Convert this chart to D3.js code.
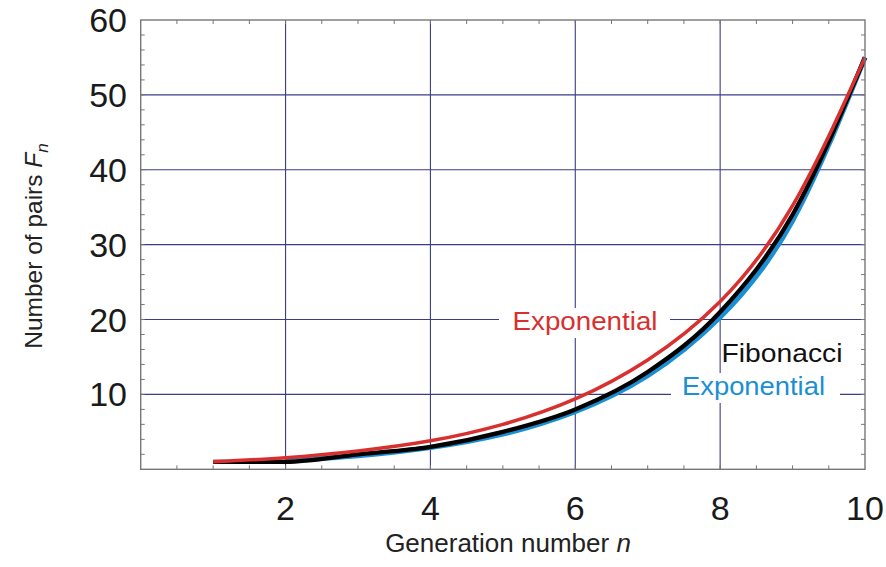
<!DOCTYPE html>
<html>
<head>
<meta charset="utf-8">
<script src="https://cdn.jsdelivr.net/npm/d3@7"></script>
<style>
  html, body { margin: 0; padding: 0; background: #fff; }
  svg { display: block; font-family: "Liberation Sans", Arial, Helvetica, sans-serif; }
</style>
</head>
<body>
<svg id="chart" width="886" height="567"></svg>
<script>
// Generation numbers and the three curves
const generations = [1, 2, 3, 4, 5, 6, 7, 8, 9, 10];
const fibonacci   = [1, 1, 2, 3, 5, 8, 13, 21, 34, 55];
const expUpper    = [1.0, 1.55, 2.45, 3.8, 6.0, 9.4, 14.6, 22.4, 35.2, 55];
const lowerGens   = [2, 3, 4, 5, 6, 7, 8, 9, 10];
const expLower    = [1.1, 1.8, 2.9, 4.7, 7.7, 12.5, 20.3, 33.2, 55];

const xTicks = [2, 4, 6, 8, 10];
const yTicks = [10, 20, 30, 40, 50, 60];

const svg = d3.select("#chart");
const plotLeft = 140.7, plotRight = 865, plotTop = 20, plotBottom = 469.3;

const x = d3.scaleLinear().domain([0, 10]).range([plotLeft, plotRight]);
const y = d3.scaleLinear().domain([0, 60]).range([plotBottom, plotTop]);

const gridColor = "#3c3c86";
const frameColor = "#777";

// grid lines
const grid = svg.append("g");
grid.selectAll("line.v").data(xTicks.filter(d => d < 10)).join("line")
  .attr("class", "v")
  .attr("x1", d => x(d)).attr("x2", d => x(d))
  .attr("y1", plotTop).attr("y2", plotBottom)
  .attr("stroke", gridColor).attr("stroke-width", 1.1);
grid.selectAll("line.h").data(yTicks.filter(d => d < 60)).join("line")
  .attr("class", "h")
  .attr("x1", plotLeft).attr("x2", plotRight)
  .attr("y1", d => y(d)).attr("y2", d => y(d))
  .attr("stroke", gridColor).attr("stroke-width", 1.1);

// minor ticks pointing inward on all four sides
const xMinor = d3.range(0.5, 10, 0.5);
const yMinor = d3.range(2, 60, 2);
const tickLen = 4;
const ticks = svg.append("g").attr("stroke", frameColor).attr("stroke-width", 1);
ticks.selectAll("line.b").data(xMinor).join("line").attr("class", "b")
  .attr("x1", d => x(d)).attr("x2", d => x(d)).attr("y1", plotBottom).attr("y2", plotBottom - tickLen);
ticks.selectAll("line.t").data(xMinor).join("line").attr("class", "t")
  .attr("x1", d => x(d)).attr("x2", d => x(d)).attr("y1", plotTop).attr("y2", plotTop + tickLen);
ticks.selectAll("line.l").data(yMinor).join("line").attr("class", "l")
  .attr("x1", plotLeft).attr("x2", plotLeft + tickLen).attr("y1", d => y(d)).attr("y2", d => y(d));
ticks.selectAll("line.r").data(yMinor).join("line").attr("class", "r")
  .attr("x1", plotRight).attr("x2", plotRight - tickLen).attr("y1", d => y(d)).attr("y2", d => y(d));

// curve labels with white backing over the grid
function curveLabel(text, cx, baseline, color, width, gapFrom, gapTo) {
  if (gapFrom !== undefined) {
    svg.append("rect").attr("x", gapFrom).attr("y", baseline - 22)
      .attr("width", gapTo - gapFrom).attr("height", 30).attr("fill", "#fff");
  }
  svg.append("text").attr("x", cx).attr("y", baseline)
    .attr("text-anchor", "middle").attr("font-size", 26).attr("fill", color)
    .attr("textLength", width).attr("lengthAdjust", "spacingAndGlyphs")
    .text(text);
}

// curves
const smooth = d3.line().x(d => x(d[0])).y(d => y(d[1])).curve(d3.curveNatural);
const mono = d3.line().x(d => x(d[0])).y(d => y(d[1])).curve(d3.curveMonotoneX);

svg.append("path")
  .datum(d3.zip(lowerGens, expLower))
  .attr("d", smooth)
  .attr("fill", "none").attr("stroke", "#1b8fd3").attr("stroke-width", 5);
svg.append("path")
  .datum(d3.zip(generations, fibonacci))
  .attr("d", mono)
  .attr("fill", "none").attr("stroke", "#000").attr("stroke-width", 4.3);
svg.append("path")
  .datum(d3.zip(generations, expUpper))
  .attr("d", smooth)
  .attr("fill", "none").attr("stroke", "#d8302f").attr("stroke-width", 3.5);

curveLabel("Exponential", 585, 330, "#d8302f", 145, 499, 670);
curveLabel("Fibonacci", 782, 361.5, "#111", 121);
curveLabel("Exponential", 753.5, 395, "#1b8fd3", 143, 671, 840);

// frame
svg.append("rect").attr("x", plotLeft).attr("y", plotTop)
  .attr("width", plotRight - plotLeft).attr("height", plotBottom - plotTop)
  .attr("fill", "none").attr("stroke", frameColor).attr("stroke-width", 1.4);

// tick labels
svg.append("g").selectAll("text").data(xTicks).join("text")
  .attr("x", d => x(d)).attr("y", 520)
  .attr("text-anchor", "middle").attr("font-size", 34).attr("fill", "#1a1a1a")
  .text(d => d);
svg.append("g").selectAll("text").data(yTicks).join("text")
  .attr("x", 127).attr("y", d => y(d) + 12)
  .attr("text-anchor", "end").attr("font-size", 34).attr("fill", "#1a1a1a")
  .text(d => d);

// axis titles
const xt = svg.append("text").attr("x", 508).attr("y", 552)
  .attr("text-anchor", "middle").attr("font-size", 26).attr("fill", "#222");
xt.append("tspan").text("Generation number ");
xt.append("tspan").attr("font-style", "italic").text("n");

const yt = svg.append("text").attr("transform", "translate(42,246) rotate(-90)")
  .attr("text-anchor", "middle").attr("font-size", 24.5).attr("fill", "#222");
yt.append("tspan").text("Number of pairs ");
yt.append("tspan").attr("font-style", "italic").text("F");
yt.append("tspan").attr("font-style", "italic").attr("font-size", 17).attr("dy", 6).text("n");
</script>
</body>
</html>
